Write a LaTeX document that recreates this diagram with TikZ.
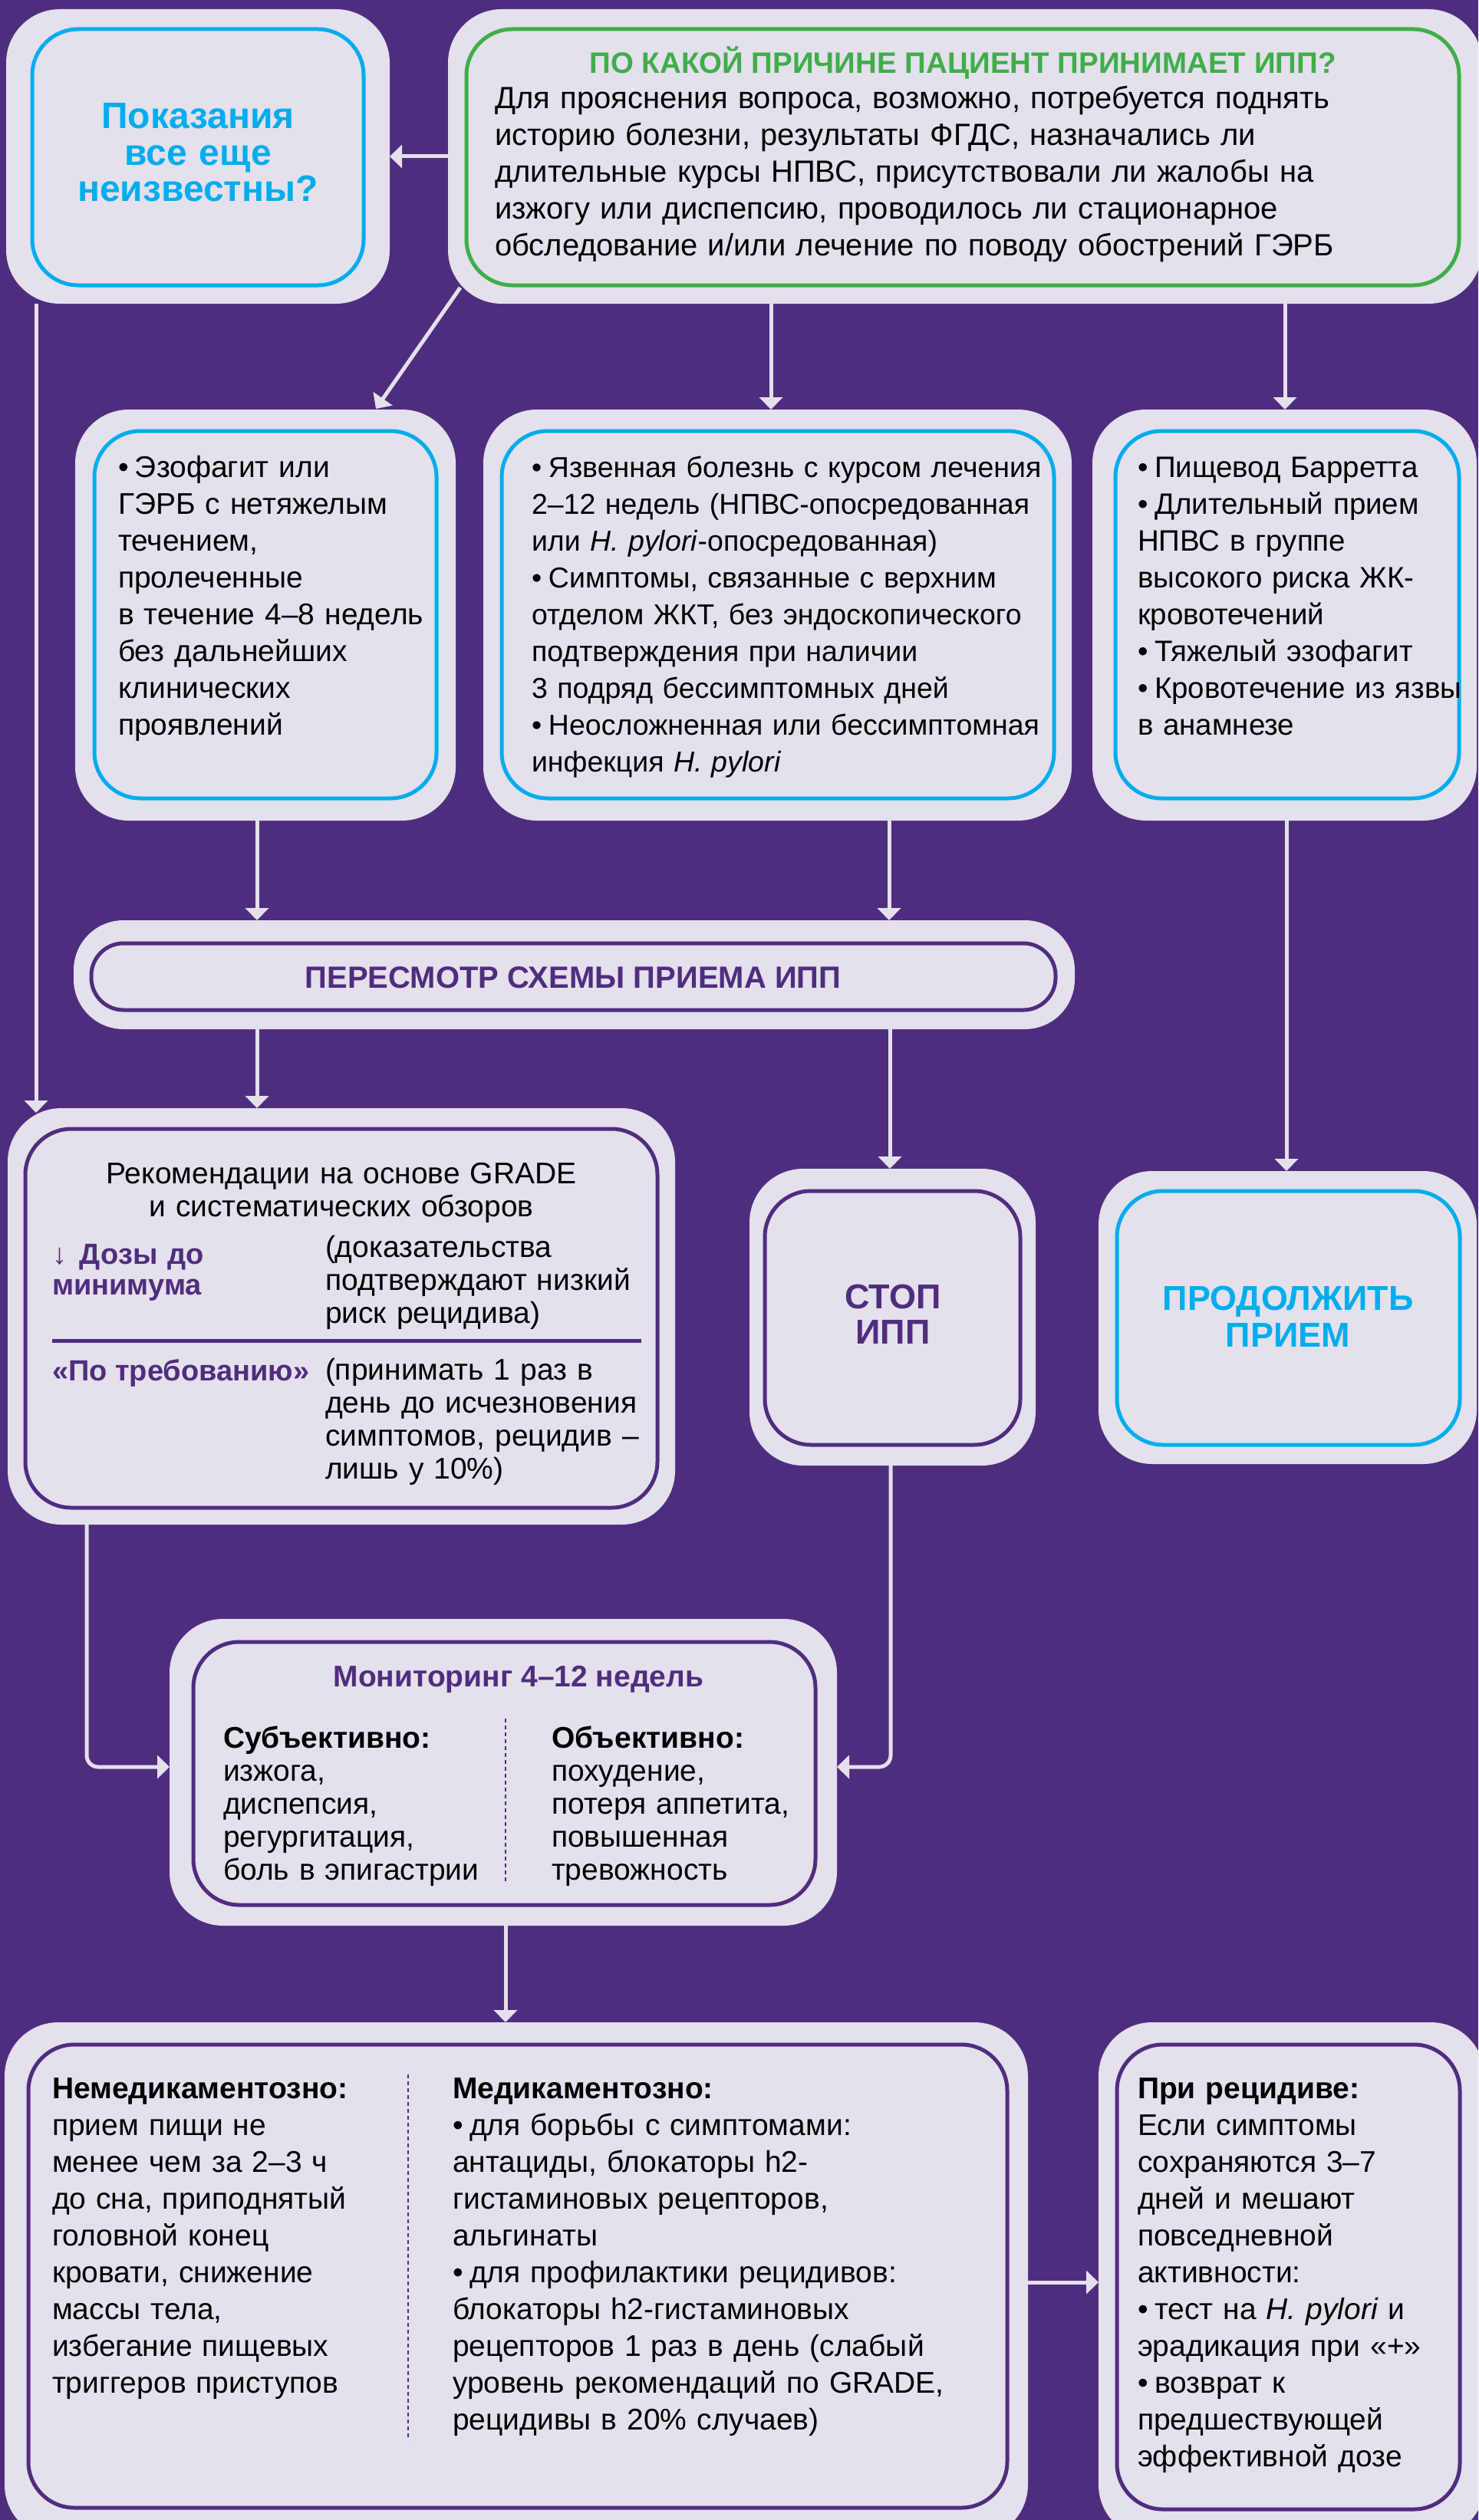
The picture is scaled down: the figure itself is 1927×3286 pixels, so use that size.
\documentclass[tikz,border=0pt]{standalone}
\usepackage{fontspec}
\setmainfont{Liberation Sans}
\usetikzlibrary{arrows.meta,calc}
\definecolor{bgp}{HTML}{4F2D7E}
\definecolor{lite}{HTML}{E4E0EC}
\definecolor{cyn}{HTML}{00AEEF}
\definecolor{grn}{HTML}{3FAE49}
\definecolor{prp}{HTML}{4F2D7E}
\setlength{\parskip}{0pt}
\pgfdeclarelayer{bg}
\pgfsetlayers{bg,main}
\newcommand{\itmf}{\hangindent=22pt\hangafter=1\makebox[22pt][l]{•}}
\newcommand{\itm}{\par\hangindent=22pt\hangafter=1\noindent\makebox[22pt][l]{•}}
\newcommand{\bx}[6]{\node[#2, minimum width={#5-#3}, minimum height={#6-#4}] (#1) at ({(#3+#5)/2},{(#4+#6)/2}) {};}
\begin{document}
\begin{tikzpicture}[x=1pt,y=-1pt,
  outerbox/.style={fill=lite, rounded corners=70pt, inner sep=0pt, outer sep=0pt},
  ibox/.style={draw=#1, line width=5pt, rounded corners=60pt, inner sep=0pt, outer sep=0pt},
  arr/.style={draw=lite, line width=5pt, -{Triangle[width=30pt,length=16pt]}},
  txt/.style={inner sep=0pt, outer sep=0pt, anchor=base west, align=left, font=\fontsize{39}{48}\selectfont},
  ctxt/.style={inner sep=0pt, outer sep=0pt, anchor=base, align=center},
  divd/.style={draw=prp, line width=2pt, dash pattern=on 5pt off 4pt}]
\useasboundingbox (0,0) rectangle (1927,3286);
\clip (0,0) rectangle (1927,3286);
% ---- boxes ----
\bx{tl}{outerbox}{8}{12}{508}{396}
\bx{tli}{ibox=cyn}{42}{38}{474}{372}
\bx{tr}{outerbox}{584}{12}{1932}{396}
\bx{tri}{ibox=grn}{608}{38}{1902}{372}
\bx{bA}{outerbox}{98}{534}{594}{1070}
\bx{bAi}{ibox=cyn}{123}{562}{569}{1041}
\bx{bB}{outerbox}{630}{534}{1397}{1070}
\bx{bBi}{ibox=cyn}{654}{562}{1374}{1041}
\bx{bC}{outerbox}{1424}{534}{1925}{1070}
\bx{bCi}{ibox=cyn}{1454}{562}{1902}{1041}
\bx{rev}{outerbox, rounded corners=65pt}{96}{1200}{1401}{1342}
\bx{revi}{ibox=prp, rounded corners=42pt}{119}{1230}{1376}{1317}
\bx{rec}{outerbox}{10}{1445}{880}{1988}
\bx{reci}{ibox=prp}{33}{1472}{857}{1966}
\bx{stop}{outerbox}{977}{1524}{1350}{1911}
\bx{stopi}{ibox=prp}{997}{1553}{1330}{1884}
\bx{cont}{outerbox}{1432}{1527}{1925}{1909}
\bx{conti}{ibox=cyn}{1456}{1553}{1903}{1884}
\bx{mon}{outerbox}{221}{2111}{1091}{2511}
\bx{moni}{ibox=prp}{252}{2141}{1063}{2484}
\bx{bl}{outerbox}{6}{2637}{1340}{3310}
\bx{bli}{ibox=prp}{37}{2666}{1313}{3270}
\bx{br}{outerbox}{1432}{2637}{1935}{3310}
\bx{bri}{ibox=prp}{1456}{2666}{1903}{3272}
% ---- texts ----
\node[ctxt, text width=420pt, font=\fontsize{48}{47.5}\selectfont\bfseries, text=cyn] (t1) at (258,168) {Показания\\ все еще\\ неизвестны?};
\node[ctxt, font=\fontsize{38.5}{48}\selectfont\bfseries, text=grn] (t2) at (1255,96) {ПО КАКОЙ ПРИЧИНЕ ПАЦИЕНТ ПРИНИМАЕТ ИПП?};
\node[txt, text width=1250pt, font=\fontsize{40}{48}\selectfont] (t3) at (645,142) {Для прояснения вопроса, возможно, потребуется поднять\\ историю болезни, результаты ФГДС, назначались ли\\ длительные курсы НПВС, присутствовали ли жалобы на\\ изжогу или диспепсию, проводилось ли стационарное\\ обследование и/или лечение по поводу обострений ГЭРБ};
\node[txt, text width=420pt] (tA) at (154,622) {\itmf Эзофагит или\\ ГЭРБ с нетяжелым\\ течением,\\ пролеченные\\ в течение 4–8 недель\\ без дальнейших\\ клинических\\ проявлений};
\node[txt, text width=700pt, font=\fontsize{37.5}{48}\selectfont] (tB) at (693,622) {\itmf Язвенная болезнь с курсом лечения\\ 2–12 недель (НПВС-опосредованная\\ или \textit{H. pylori}-опосредованная)\itm Симптомы, связанные с верхним\\ отделом ЖКТ, без эндоскопического\\ подтверждения при наличии\\ 3 подряд бессимптомных дней\itm Неосложненная или бессимптомная\\ инфекция \textit{H. pylori}};
\node[txt, text width=440pt, font=\fontsize{38.5}{48}\selectfont] (tC) at (1483,622) {\itmf Пищевод Барретта\itm Длительный прием\\ НПВС в группе\\ высокого риска ЖК-\\ кровотечений\itm Тяжелый эзофагит\itm Кровотечение из язвы\\ в анамнезе};
\node[ctxt, font=\fontsize{40}{48}\selectfont\bfseries, text=prp] (t4) at (747,1288) {ПЕРЕСМОТР СХЕМЫ ПРИЕМА ИПП};
\node[ctxt, text width=800pt, font=\fontsize{39}{43}\selectfont] (t5) at (445,1543) {Рекомендации на основе GRADE\\ и систематических обзоров};
\node[txt, text width=340pt, font=\fontsize{38}{40}\selectfont\bfseries, text=prp] (t6) at (68,1648) {\hangindent=36pt\hangafter=1\noindent\makebox[36pt][l]{↓}Дозы до\\ минимума};
\node[txt, text width=440pt, font=\fontsize{39}{43}\selectfont] (t7) at (424,1639) {(доказательства\\ подтверждают низкий\\ риск рецидива)};
\draw[prp, line width=5pt] ($(reci.west |- 0,1748)+(35,0)$) coordinate (dvl) -- ($(reci.east |- 0,1748)+(-21,0)$) coordinate (dvr);
\node[txt, font=\fontsize{38}{40}\selectfont\bfseries, text=prp] (t8) at (68,1800) {«По требованию»};
\node[txt, text width=440pt, font=\fontsize{39}{43}\selectfont] (t9) at (424,1799) {(принимать 1 раз в\\ день до исчезновения\\ симптомов, рецидив –\\ лишь у 10\%)};
\node[ctxt, text width=320pt, font=\fontsize{45}{46}\selectfont\bfseries, text=prp] (t10) at (1164,1706) {СТОП\\ ИПП};
\node[ctxt, text width=440pt, font=\fontsize{45}{48}\selectfont\bfseries, text=cyn] (t11) at (1679,1708) {ПРОДОЛЖИТЬ\\ ПРИЕМ};
\node[ctxt, font=\fontsize{39}{43}\selectfont\bfseries, text=prp] (t12) at (676,2199) {Мониторинг 4–12 недель};
\node[txt, text width=360pt, font=\fontsize{39}{43}\selectfont] (t13) at (291,2279) {\textbf{Субъективно:}\\ изжога,\\ диспепсия,\\ регургитация,\\ боль в эпигастрии};
\node[txt, text width=340pt, font=\fontsize{39}{43}\selectfont] (t14) at (719,2279) {\textbf{Объективно:}\\ похудение,\\ потеря аппетита,\\ повышенная\\ тревожность};
\draw[divd] (659,2241) -- (659,2455);
\node[txt, text width=450pt] (t15) at (68,2736) {\textbf{Немедикаментозно:}\\ прием пищи не\\ менее чем за 2–3 ч\\ до сна, приподнятый\\ головной конец\\ кровати, снижение\\ массы тела,\\ избегание пищевых\\ триггеров приступов};
\draw[divd] (532,2705) -- (532,3182);
\node[txt, text width=700pt] (t16) at (590,2736) {\textbf{Медикаментозно:}\itm для борьбы с симптомами:\\ антациды, блокаторы h2-\\ гистаминовых рецепторов,\\ альгинаты\itm для профилактики рецидивов:\\ блокаторы h2-гистаминовых\\ рецепторов 1 раз в день (слабый\\ уровень рекомендаций по GRADE,\\ рецидивы в 20\% случаев)};
\node[txt, text width=440pt] (t17) at (1483,2736) {\textbf{При рецидиве:}\\ Если симптомы\\ сохраняются 3–7\\ дней и мешают\\ повседневной\\ активности:\itm тест на \textit{H. pylori} и\\ эрадикация при «+»\itm возврат к\\ предшествующей\\ эффективной дозе};
% ---- connectors ----
\begin{pgfonlayer}{bg}
\fill[bgp] (0,0) rectangle (1927,3286);
\draw[arr] (tr.west |- 0,204) -- (tl.east |- 0,204);
\draw[arr] ($(tr.south west)+(16,-21)$) -- ($(bA.north west)+(392,-1)$);
\draw[arr] (tr.south -| 1005,0) -- (bB.north -| 1005,0);
\draw[arr] (tr.south -| 1675,0) -- (bC.north -| 1675,0);
\draw[arr] (tl.south -| 47,0) -- ($(rec.north -| 47,0)+(0,6)$);
\draw[arr] (bA.south -| 335,0) -- (rev.north -| 335,0);
\draw[arr] (bB.south -| 1159,0) -- (rev.north -| 1159,0);
\draw[arr] (bC.south -| 1677,0) -- (cont.north -| 1677,0);
\draw[arr] (rev.south -| 335,0) -- (rec.north -| 335,0);
\draw[arr] (rev.south -| 1160,0) -- (stop.north -| 1160,0);
\draw[arr, rounded corners=15pt] (rec.south -| 113,0) |- (mon.west |- 0,2304);
\draw[arr, rounded corners=15pt] (stop.south -| 1161,0) |- (mon.east |- 0,2304);
\draw[arr] (mon.south -| 659,0) -- (bl.north -| 659,0);
\draw[arr] (bl.east |- 0,2976) -- (br.west |- 0,2976);
\end{pgfonlayer}
\end{tikzpicture}
\end{document}
